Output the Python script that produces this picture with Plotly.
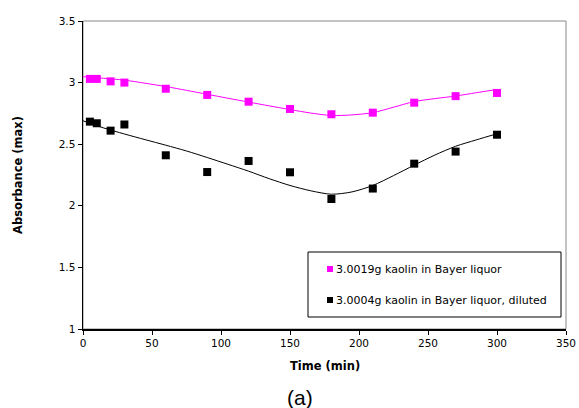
import plotly.graph_objects as go

# measured data points
time_min = [5, 10, 20, 30, 60, 90, 120, 150, 180, 210, 240, 270, 300]
abs_bayer = [3.03, 3.03, 3.01, 3.0, 2.95, 2.90, 2.845, 2.786, 2.743, 2.756, 2.837, 2.89, 2.916]
abs_diluted = [2.683, 2.67, 2.61, 2.66, 2.41, 2.274, 2.364, 2.272, 2.055, 2.14, 2.342, 2.44, 2.577]

# trend curves
trend_time = [0, 15, 30, 45, 60, 75, 90, 105, 120, 135, 150, 165, 180, 195, 210, 225, 240, 255, 270, 285, 300]
trend_bayer = [3.048, 3.035, 3.02, 2.995, 2.968, 2.937, 2.905, 2.873, 2.842, 2.811, 2.781, 2.753,
               2.733, 2.738, 2.756, 2.80, 2.846, 2.87, 2.891, 2.918, 2.944]
trend_diluted = [2.69, 2.632, 2.583, 2.537, 2.492, 2.445, 2.392, 2.337, 2.281, 2.22, 2.165, 2.122,
                 2.094, 2.113, 2.165, 2.245, 2.33, 2.412, 2.483, 2.535, 2.585]

name_bayer = "3.0019g kaolin in Bayer liquor"
name_diluted = "3.0004g kaolin in Bayer liquor, diluted"
x_ticks = [0, 50, 100, 150, 200, 250, 300, 350]
y_ticks = [1, 1.5, 2, 2.5, 3, 3.5]
y_ticktext = ["1", "1.5", "2", "2.5", "3", "3.5"]

FONT = "DejaVu Sans, sans-serif"
PINK = "#ff00ff"

# plot-area geometry in pixels (for paper-coordinate conversions)
W, H = 579, 408
L, R, T, B = 83, 566, 21, 329


def px(xp):
    return (xp - L) / (R - L)


def py(yp):
    return (B - yp) / (B - T)


fig = go.Figure()

fig.add_trace(go.Scatter(x=trend_time, y=trend_bayer, mode="lines",
                         line=dict(color=PINK, width=1, shape="spline", smoothing=0.8),
                         showlegend=False, hoverinfo="skip"))
fig.add_trace(go.Scatter(x=trend_time, y=trend_diluted, mode="lines",
                         line=dict(color="#000000", width=1, shape="spline", smoothing=0.8),
                         showlegend=False, hoverinfo="skip"))

fig.add_trace(go.Scatter(x=time_min, y=abs_bayer, mode="markers", name=name_bayer,
                         showlegend=False,
                         marker=dict(symbol="square", size=8, color=PINK)))
fig.add_trace(go.Scatter(x=time_min, y=abs_diluted, mode="markers", name=name_diluted,
                         showlegend=False,
                         marker=dict(symbol="square", size=8, color="#000000")))

shapes = [
    # plot-area border (grey top/right)
    dict(type="rect", xref="paper", yref="paper", x0=0, y0=0, x1=1, y1=1,
         line=dict(color="#888888", width=1), layer="below"),
    # legend box
    dict(type="rect", xref="paper", yref="paper", x0=px(308), x1=px(561), y0=py(317), y1=py(252),
         line=dict(color="#000000", width=1), fillcolor="white", layer="above"),
    # legend markers
    dict(type="rect", xref="paper", yref="paper", x0=px(327), x1=px(333), y0=py(272), y1=py(266),
         line=dict(width=0), fillcolor=PINK, layer="above"),
    dict(type="rect", xref="paper", yref="paper", x0=px(327), x1=px(333), y0=py(303), y1=py(297),
         line=dict(width=0), fillcolor="#000000", layer="above"),
]

annotations = [
    dict(text=name_bayer, xref="paper", yref="paper", x=px(334), y=py(269),
         xanchor="left", yanchor="middle", showarrow=False,
         font=dict(family=FONT, size=11)),
    dict(text=name_diluted, xref="paper", yref="paper", x=px(334), y=py(300),
         xanchor="left", yanchor="middle", showarrow=False,
         font=dict(family=FONT, size=11)),
    dict(text="<b>Time (min)</b>", xref="paper", yref="paper", x=0.5, y=py(366),
         xanchor="center", yanchor="middle", showarrow=False,
         font=dict(family=FONT, size=11.5)),
    dict(text="<b>Absorbance (max)</b>", xref="paper", yref="paper", x=px(18), y=py(175),
         xanchor="center", yanchor="middle", showarrow=False, textangle=-90,
         font=dict(family=FONT, size=11.5)),
    dict(text="(a)", xref="paper", yref="paper", x=px(300), y=py(397),
         xanchor="center", yanchor="middle", showarrow=False,
         font=dict(family="Liberation Sans, Arial", size=21)),
]

fig.update_layout(
    width=W, height=H,
    margin=dict(l=L, r=W - R, t=T, b=H - B, autoexpand=False),
    paper_bgcolor="white", plot_bgcolor="white",
    font=dict(family=FONT, size=10.5, color="#000000"),
    showlegend=False,
    hovermode=False,
    shapes=shapes,
    annotations=annotations,
)

fig.update_xaxes(range=[0, 350], tickvals=x_ticks, automargin=False,
                 showline=True, linecolor="#000000", linewidth=1.5, mirror=False,
                 ticks="outside", ticklen=4, tickcolor="#000000", tickwidth=1,
                 showgrid=False, zeroline=False)
fig.update_yaxes(range=[1, 3.5], tickvals=y_ticks, ticktext=y_ticktext, automargin=False,
                 showline=True, linecolor="#000000", linewidth=1.5, mirror=False,
                 ticks="outside", ticklen=4, tickcolor="#000000", tickwidth=1,
                 showgrid=False, zeroline=False)

fig.write_html("out.html",
               config={"displayModeBar": False, "staticPlot": True},
               post_script="document.body.style.margin='0px';document.body.style.overflow='hidden';")
